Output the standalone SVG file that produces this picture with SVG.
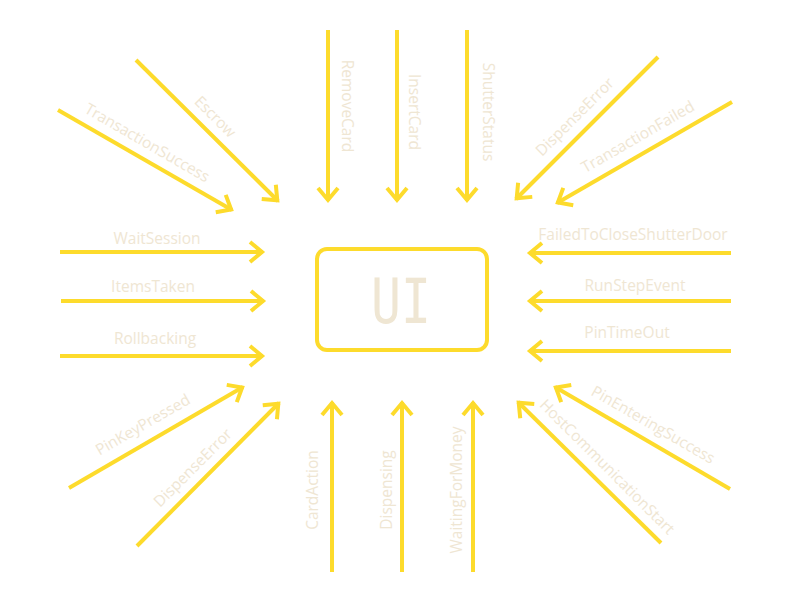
<svg xmlns="http://www.w3.org/2000/svg" width="800" height="600" viewBox="0 0 800 600">
<style>
.c{stroke:#fddb2c;stroke-width:4;fill:none;marker-end:url(#ah)}
.l{fill:#efe6d3;font-family:"Open Sans","Noto Sans",sans-serif;font-size:15.5px;text-anchor:middle}
.box{fill:#fff;stroke:#fddb2c;stroke-width:4}
.ui{fill:#efe6d3;font-family:"DejaVu Sans Mono",monospace;font-size:63px;text-anchor:middle}
</style>
<defs>
<marker id="ah" markerUnits="userSpaceOnUse" orient="auto" refX="0" refY="0" markerWidth="40" markerHeight="40" overflow="visible">
<path d="M-13,-10 L-1,0 L-13,10" fill="none" stroke="#fddb2c" stroke-width="4"/>
</marker>
</defs>
<rect width="800" height="600" fill="#fff"/>
<g id="connectors">
<line class="c" x1="136" y1="60" x2="278" y2="201"/>
<line class="c" x1="58" y1="110" x2="232" y2="210"/>
<line class="c" x1="328" y1="30" x2="328" y2="201"/>
<line class="c" x1="397" y1="30" x2="397" y2="201"/>
<line class="c" x1="467" y1="30" x2="467" y2="201"/>
<line class="c" x1="658" y1="57" x2="516" y2="199"/>
<line class="c" x1="732" y1="102" x2="557" y2="203"/>
<line class="c" x1="60" y1="252" x2="263" y2="252"/>
<line class="c" x1="61" y1="301" x2="264" y2="301"/>
<line class="c" x1="60" y1="356" x2="263" y2="356"/>
<line class="c" x1="731" y1="253" x2="529" y2="253"/>
<line class="c" x1="731" y1="301" x2="529" y2="301"/>
<line class="c" x1="731" y1="351" x2="529" y2="351"/>
<line class="c" x1="69" y1="488" x2="243" y2="387"/>
<line class="c" x1="137" y1="546" x2="279" y2="403"/>
<line class="c" x1="332" y1="572" x2="332" y2="402"/>
<line class="c" x1="402" y1="572" x2="402" y2="402"/>
<line class="c" x1="473" y1="572" x2="473" y2="402"/>
<line class="c" x1="730" y1="489" x2="555" y2="387"/>
<line class="c" x1="661" y1="543" x2="518" y2="402"/>
</g>
<g id="labels">
<text class="l" transform="translate(215,117) rotate(45)" dy="5">Escrow</text>
<text class="l" transform="translate(147,143) rotate(30)" dy="5">TransactionSuccess</text>
<text class="l" transform="translate(347,106) rotate(90)" dy="5">RemoveCard</text>
<text class="l" transform="translate(414,112) rotate(90)" dy="5">InsertCard</text>
<text class="l" transform="translate(488,112) rotate(90)" dy="5">ShutterStatus</text>
<text class="l" transform="translate(575,117) rotate(-45)" dy="5">DispenseError</text>
<text class="l" transform="translate(638,137) rotate(-30)" dy="5">TransactionFailed</text>
<text class="l" x="157" y="244">WaitSession</text>
<text class="l" x="153" y="292">ItemsTaken</text>
<text class="l" x="155" y="344">Rollbacking</text>
<text class="l" x="633" y="240">FailedToCloseShutterDoor</text>
<text class="l" x="635" y="291">RunStepEvent</text>
<text class="l" x="627" y="338">PinTimeOut</text>
<text class="l" transform="translate(143,425) rotate(-30)" dy="5">PinKeyPressed</text>
<text class="l" transform="translate(193,468) rotate(-45)" dy="5">DispenseError</text>
<text class="l" transform="translate(313,490) rotate(-90)" dy="5">CardAction</text>
<text class="l" transform="translate(387,490) rotate(-90)" dy="5">Dispensing</text>
<text class="l" transform="translate(457,490) rotate(-90)" dy="5">WaitingForMoney</text>
<text class="l" transform="translate(653,425) rotate(30)" dy="5">PinEnteringSuccess</text>
<text class="l" transform="translate(607,467) rotate(45)" dy="5">HostCommunicationStart</text>
</g>
<g id="node-ui">
<rect class="box" x="317" y="249" width="170" height="101" rx="10"/>
<text class="ui" x="401" y="323" textLength="60" lengthAdjust="spacingAndGlyphs">UI</text>
</g>
</svg>
